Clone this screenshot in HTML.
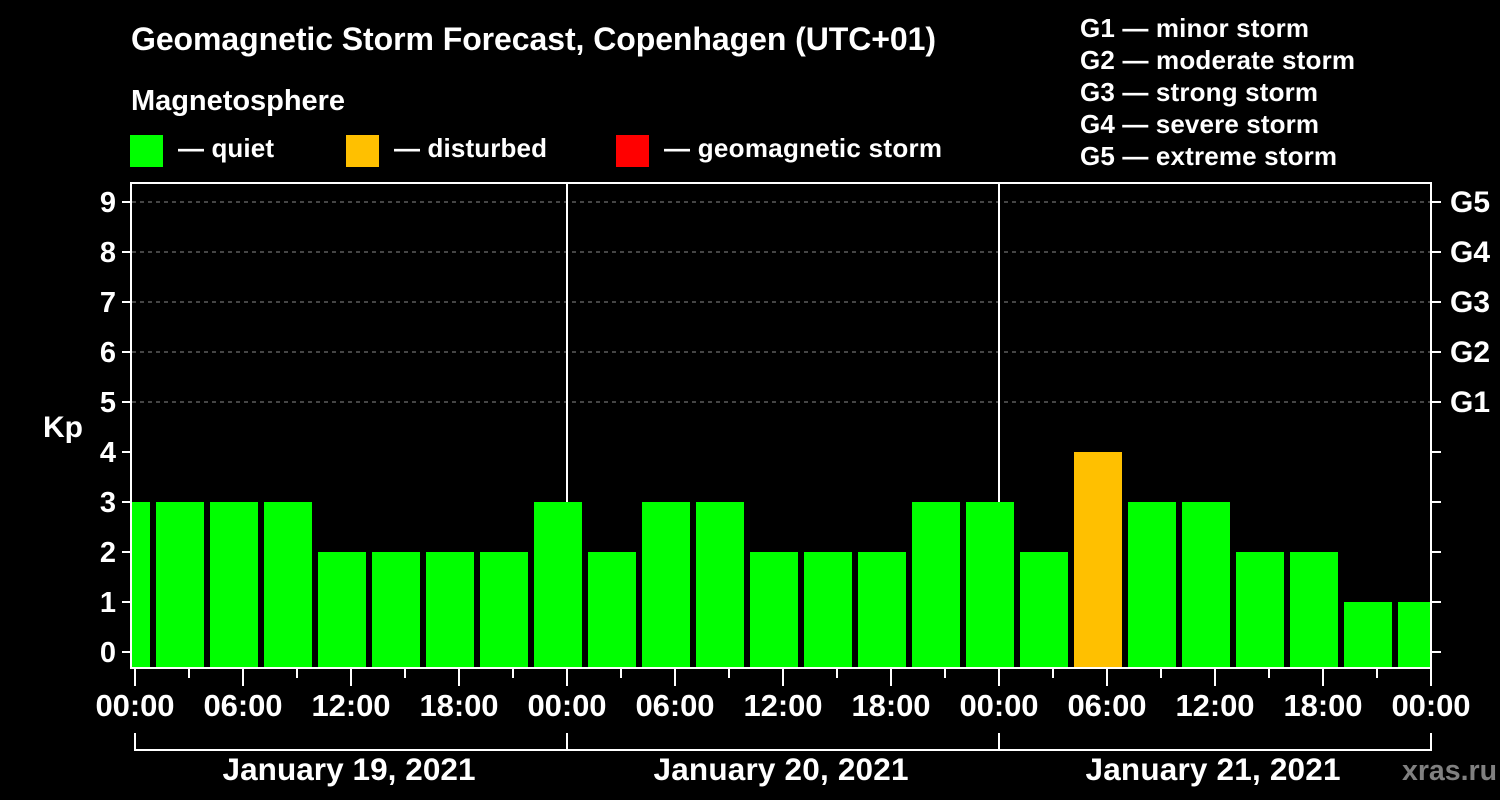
<!DOCTYPE html>
<html>
<head>
<meta charset="utf-8">
<style>
  html,body{margin:0;padding:0;background:#000;}
  svg{display:block;}
  text{font-family:"Liberation Sans", Arial, sans-serif;font-weight:bold;fill:#fff;}
</style>
</head>
<body>
<svg width="1500" height="800" viewBox="0 0 1500 800" xmlns="http://www.w3.org/2000/svg">
  <rect x="0" y="0" width="1500" height="800" fill="#000"/>

  <!-- Title & legend -->
  <text x="131" y="50" font-size="32" textLength="805" lengthAdjust="spacing">Geomagnetic Storm Forecast, Copenhagen (UTC+01)</text>
  <text x="131" y="110" font-size="29" textLength="214" lengthAdjust="spacing">Magnetosphere</text>

  <rect x="130" y="135" width="33" height="32" fill="#00ff00"/>
  <text x="178" y="157" font-size="26" textLength="96" lengthAdjust="spacing">— quiet</text>
  <rect x="346" y="135" width="33" height="32" fill="#ffc000"/>
  <text x="394" y="157" font-size="26" textLength="153" lengthAdjust="spacing">— disturbed</text>
  <rect x="616" y="135" width="33" height="32" fill="#ff0000"/>
  <text x="664" y="157" font-size="26" textLength="278" lengthAdjust="spacing">— geomagnetic storm</text>

  <text x="1080" y="37" font-size="26" textLength="229" lengthAdjust="spacing">G1 — minor storm</text>
  <text x="1080" y="69" font-size="26" textLength="275" lengthAdjust="spacing">G2 — moderate storm</text>
  <text x="1080" y="101" font-size="26" textLength="238" lengthAdjust="spacing">G3 — strong storm</text>
  <text x="1080" y="133" font-size="26" textLength="239" lengthAdjust="spacing">G4 — severe storm</text>
  <text x="1080" y="165" font-size="26" textLength="257" lengthAdjust="spacing">G5 — extreme storm</text>

  <!-- Gridlines (dashed) -->
  <g stroke="#8a8a8a" stroke-width="1" stroke-dasharray="4 4">
    <line x1="132" y1="202" x2="1430" y2="202"/>
    <line x1="132" y1="252" x2="1430" y2="252"/>
    <line x1="132" y1="302" x2="1430" y2="302"/>
    <line x1="132" y1="352" x2="1430" y2="352"/>
    <line x1="132" y1="402" x2="1430" y2="402"/>
  </g>

  <!-- Day separators -->
  <g stroke="#fff" stroke-width="2">
    <line x1="567" y1="183" x2="567" y2="668"/>
    <line x1="999" y1="183" x2="999" y2="668"/>
  </g>

  <!-- Bars -->
  <g fill="#00ff00">
    <rect x="132" y="502" width="18" height="166"/>
    <rect x="156" y="502" width="48" height="166"/>
    <rect x="210" y="502" width="48" height="166"/>
    <rect x="264" y="502" width="48" height="166"/>
    <rect x="318" y="552" width="48" height="116"/>
    <rect x="372" y="552" width="48" height="116"/>
    <rect x="426" y="552" width="48" height="116"/>
    <rect x="480" y="552" width="48" height="116"/>
    <rect x="534" y="502" width="48" height="166"/>
    <rect x="588" y="552" width="48" height="116"/>
    <rect x="642" y="502" width="48" height="166"/>
    <rect x="696" y="502" width="48" height="166"/>
    <rect x="750" y="552" width="48" height="116"/>
    <rect x="804" y="552" width="48" height="116"/>
    <rect x="858" y="552" width="48" height="116"/>
    <rect x="912" y="502" width="48" height="166"/>
    <rect x="966" y="502" width="48" height="166"/>
    <rect x="1020" y="552" width="48" height="116"/>
    <rect x="1128" y="502" width="48" height="166"/>
    <rect x="1182" y="502" width="48" height="166"/>
    <rect x="1236" y="552" width="48" height="116"/>
    <rect x="1290" y="552" width="48" height="116"/>
    <rect x="1344" y="602" width="48" height="66"/>
    <rect x="1398" y="602" width="32" height="66"/>
  </g>
  <rect x="1074" y="452" width="48" height="216" fill="#ffc000"/>

  <!-- Frame -->
  <rect x="131" y="183" width="1300" height="485" fill="none" stroke="#fff" stroke-width="2"/>

  <!-- Left & right ticks -->
  <g stroke="#fff" stroke-width="2">
    <line x1="122" y1="202" x2="131" y2="202"/><line x1="1431" y1="202" x2="1441" y2="202"/>
    <line x1="122" y1="252" x2="131" y2="252"/><line x1="1431" y1="252" x2="1441" y2="252"/>
    <line x1="122" y1="302" x2="131" y2="302"/><line x1="1431" y1="302" x2="1441" y2="302"/>
    <line x1="122" y1="352" x2="131" y2="352"/><line x1="1431" y1="352" x2="1441" y2="352"/>
    <line x1="122" y1="402" x2="131" y2="402"/><line x1="1431" y1="402" x2="1441" y2="402"/>
    <line x1="122" y1="452" x2="131" y2="452"/><line x1="1431" y1="452" x2="1441" y2="452"/>
    <line x1="122" y1="502" x2="131" y2="502"/><line x1="1431" y1="502" x2="1441" y2="502"/>
    <line x1="122" y1="552" x2="131" y2="552"/><line x1="1431" y1="552" x2="1441" y2="552"/>
    <line x1="122" y1="602" x2="131" y2="602"/><line x1="1431" y1="602" x2="1441" y2="602"/>
    <line x1="122" y1="652" x2="131" y2="652"/><line x1="1431" y1="652" x2="1441" y2="652"/>
  </g>

  <!-- Y labels -->
  <g font-size="29" text-anchor="end">
    <text x="116" y="212">9</text>
    <text x="116" y="262">8</text>
    <text x="116" y="312">7</text>
    <text x="116" y="362">6</text>
    <text x="116" y="412">5</text>
    <text x="116" y="462">4</text>
    <text x="116" y="512">3</text>
    <text x="116" y="562">2</text>
    <text x="116" y="612">1</text>
    <text x="116" y="662">0</text>
  </g>
  <text x="43" y="437" font-size="30" textLength="40" lengthAdjust="spacing">Kp</text>

  <g font-size="30">
    <text x="1450" y="212" textLength="40" lengthAdjust="spacing">G5</text>
    <text x="1450" y="262" textLength="40" lengthAdjust="spacing">G4</text>
    <text x="1450" y="312" textLength="40" lengthAdjust="spacing">G3</text>
    <text x="1450" y="362" textLength="40" lengthAdjust="spacing">G2</text>
    <text x="1450" y="412" textLength="40" lengthAdjust="spacing">G1</text>
  </g>

  <!-- Bottom ticks -->
  <g stroke="#fff" stroke-width="2">
    <line x1="135" y1="668" x2="135" y2="686"/>
    <line x1="243" y1="668" x2="243" y2="686"/>
    <line x1="351" y1="668" x2="351" y2="686"/>
    <line x1="459" y1="668" x2="459" y2="686"/>
    <line x1="567" y1="668" x2="567" y2="686"/>
    <line x1="675" y1="668" x2="675" y2="686"/>
    <line x1="783" y1="668" x2="783" y2="686"/>
    <line x1="891" y1="668" x2="891" y2="686"/>
    <line x1="999" y1="668" x2="999" y2="686"/>
    <line x1="1107" y1="668" x2="1107" y2="686"/>
    <line x1="1215" y1="668" x2="1215" y2="686"/>
    <line x1="1323" y1="668" x2="1323" y2="686"/>
    <line x1="1431" y1="668" x2="1431" y2="686"/>
    <line x1="189" y1="668" x2="189" y2="678"/>
    <line x1="297" y1="668" x2="297" y2="678"/>
    <line x1="405" y1="668" x2="405" y2="678"/>
    <line x1="513" y1="668" x2="513" y2="678"/>
    <line x1="621" y1="668" x2="621" y2="678"/>
    <line x1="729" y1="668" x2="729" y2="678"/>
    <line x1="837" y1="668" x2="837" y2="678"/>
    <line x1="945" y1="668" x2="945" y2="678"/>
    <line x1="1053" y1="668" x2="1053" y2="678"/>
    <line x1="1161" y1="668" x2="1161" y2="678"/>
    <line x1="1269" y1="668" x2="1269" y2="678"/>
    <line x1="1377" y1="668" x2="1377" y2="678"/>
    <!-- bracket -->
    <line x1="134" y1="750" x2="1432" y2="750"/>
    <line x1="135" y1="733" x2="135" y2="751"/>
    <line x1="567" y1="733" x2="567" y2="751"/>
    <line x1="999" y1="733" x2="999" y2="751"/>
    <line x1="1431" y1="733" x2="1431" y2="751"/>
  </g>

  <!-- Time labels -->
  <g font-size="31" text-anchor="middle">
    <text x="135" y="716" textLength="79" lengthAdjust="spacing">00:00</text>
    <text x="243" y="716" textLength="79" lengthAdjust="spacing">06:00</text>
    <text x="351" y="716" textLength="79" lengthAdjust="spacing">12:00</text>
    <text x="459" y="716" textLength="79" lengthAdjust="spacing">18:00</text>
    <text x="567" y="716" textLength="79" lengthAdjust="spacing">00:00</text>
    <text x="675" y="716" textLength="79" lengthAdjust="spacing">06:00</text>
    <text x="783" y="716" textLength="79" lengthAdjust="spacing">12:00</text>
    <text x="891" y="716" textLength="79" lengthAdjust="spacing">18:00</text>
    <text x="999" y="716" textLength="79" lengthAdjust="spacing">00:00</text>
    <text x="1107" y="716" textLength="79" lengthAdjust="spacing">06:00</text>
    <text x="1215" y="716" textLength="79" lengthAdjust="spacing">12:00</text>
    <text x="1323" y="716" textLength="79" lengthAdjust="spacing">18:00</text>
    <text x="1431" y="716" textLength="79" lengthAdjust="spacing">00:00</text>
  </g>

  <!-- Date labels -->
  <g font-size="31.5" text-anchor="middle">
    <text x="349" y="780" textLength="253" lengthAdjust="spacing">January 19, 2021</text>
    <text x="781" y="780" textLength="255" lengthAdjust="spacing">January 20, 2021</text>
    <text x="1213" y="780" textLength="255" lengthAdjust="spacing">January 21, 2021</text>
  </g>

  <text x="1402" y="780" font-size="28.5" textLength="95" lengthAdjust="spacing" style="fill:#808080">xras.ru</text>
</svg>
</body>
</html>
